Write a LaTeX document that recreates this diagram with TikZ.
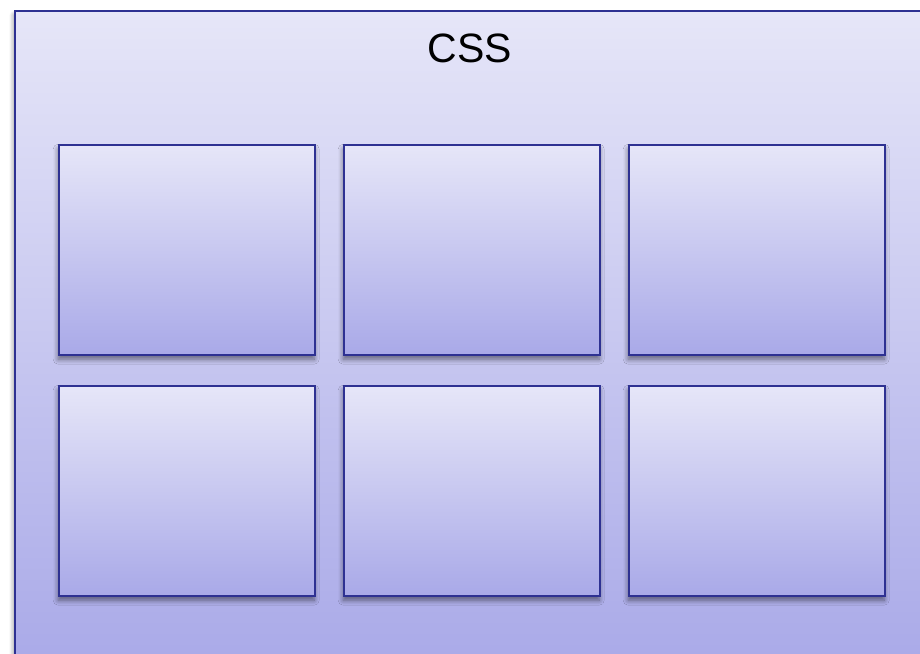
\documentclass[tikz,border=0pt]{standalone}
\usepackage{fontspec}
\setmainfont{Liberation Sans}
\usetikzlibrary{shadows.blur}
\definecolor{edgeblue}{HTML}{2E3192}
\definecolor{topfill}{HTML}{E6E6F8}
\definecolor{botfill}{HTML}{A9A9E8}
\tikzset{
  panel/.style={draw=edgeblue, line width=2.4pt, top color=topfill, bottom color=botfill,
    blur shadow={shadow xshift=-1pt, shadow yshift=-4pt, shadow blur steps=8, shadow blur radius=5pt, shadow opacity=50}},
  card/.style={panel, minimum width=256pt, minimum height=210pt, inner sep=0pt, anchor=north west}
}
\begin{document}
\begin{tikzpicture}[x=1pt,y=-1pt]
\useasboundingbox (0,0) rectangle (920,653);
\begin{scope}
\clip (0,0) rectangle (920,653);
\node[panel, anchor=north west, minimum width=930pt, minimum height=660pt, inner sep=0pt] (outer) at (14,10) {};
\end{scope}
\node[anchor=base, inner sep=0pt] (title) at (470,62) {\fontsize{41}{48}\selectfont CSS};
\node[card] (b1) at (58,144) {};
\node[card] (b2) at (343,144) {};
\node[card] (b3) at (628,144) {};
\node[card] (b4) at (58,385) {};
\node[card] (b5) at (343,385) {};
\node[card] (b6) at (628,385) {};
\end{tikzpicture}
\end{document}
